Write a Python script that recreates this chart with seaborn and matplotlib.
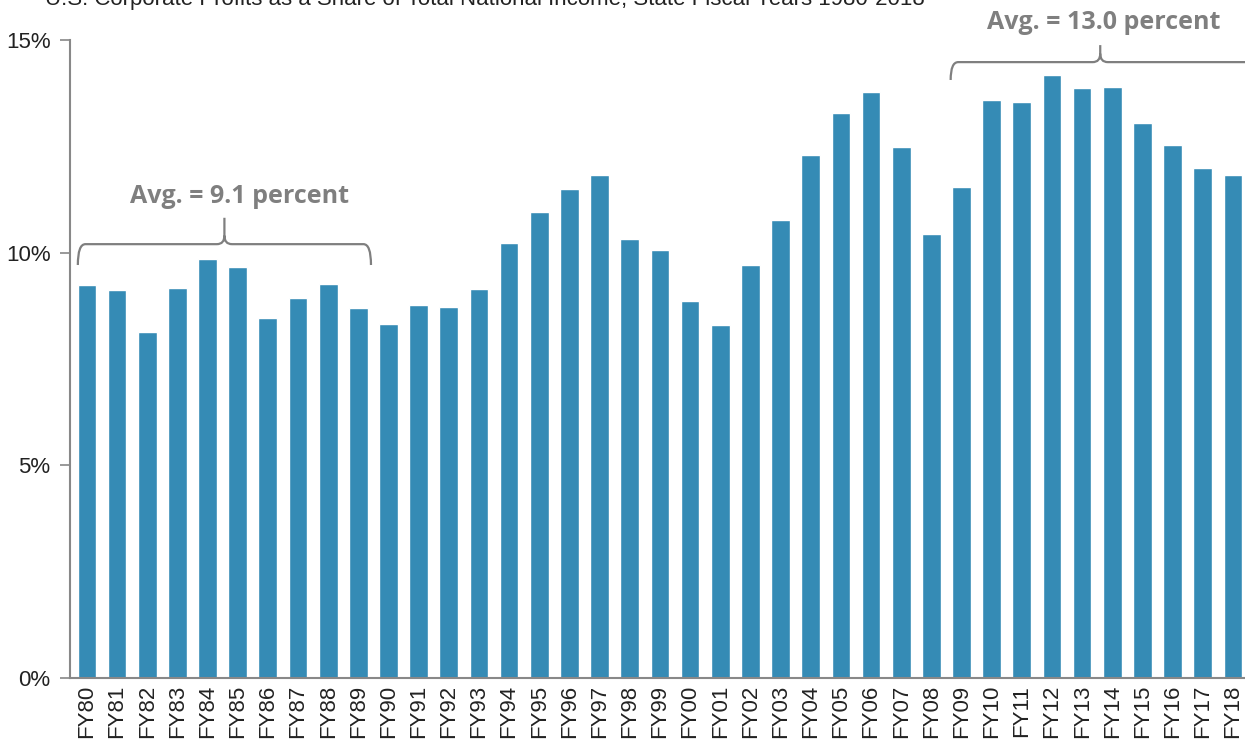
import matplotlib
matplotlib.use("Agg")
import matplotlib.pyplot as plt
from matplotlib.path import Path
from matplotlib.patches import PathPatch
import seaborn as sns
import pandas as pd

years = ["FY80", "FY81", "FY82", "FY83", "FY84", "FY85", "FY86", "FY87", "FY88", "FY89",
         "FY90", "FY91", "FY92", "FY93", "FY94", "FY95", "FY96", "FY97", "FY98", "FY99",
         "FY00", "FY01", "FY02", "FY03", "FY04", "FY05", "FY06", "FY07", "FY08", "FY09",
         "FY10", "FY11", "FY12", "FY13", "FY14", "FY15", "FY16", "FY17", "FY18"]
share = [9.24, 9.12, 8.14, 9.17, 9.85, 9.66, 8.46, 8.93, 9.26, 8.70,
         8.32, 8.77, 8.72, 9.15, 10.23, 10.96, 11.50, 11.83, 10.32, 10.06,
         8.86, 8.30, 9.71, 10.77, 12.30, 13.28, 13.78, 12.49, 10.44, 11.54,
         13.59, 13.54, 14.18, 13.87, 13.90, 13.05, 12.53, 11.99, 11.83]
yticks = [0, 5, 10, 15]
ytick_labels = ["0%", "5%", "10%", "15%"]
title = "U.S. Corporate Profits as a Share of Total National Income, State Fiscal Years 1980-2018"
avg_labels = ["Avg. = 9.1 percent", "Avg. = 13.0 percent"]

df = pd.DataFrame({"year": years, "share": share})

sns.set_theme(style="white")
plt.rcParams["font.family"] = ["Liberation Sans", "DejaVu Sans"]

fig = plt.figure(figsize=(12.45, 7.45), dpi=100)
ax = fig.add_axes([70 / 1245, 67 / 745, 1 - 70 / 1245, (678 - 40) / 745])

sns.barplot(data=df, x="year", y="share", color="#358BB5", saturation=1, width=0.62, ax=ax)

ax.set_ylim(0, 15)
ax.set_xlim(-0.56, 38.4)
ax.set_yticks(yticks)
ax.set_yticklabels(ytick_labels, fontsize=16, color="#222222")
ax.tick_params(axis="x", labelrotation=90, labelsize=16, length=0, pad=5, labelcolor="#222222")
ax.tick_params(axis="y", length=7, width=1.2, color="#888888", direction="out", left=True, pad=7)
ax.set_xlabel("")
ax.set_ylabel("")
for s in ["top", "right"]:
    ax.spines[s].set_visible(False)
for s in ["left", "bottom"]:
    ax.spines[s].set_color("#888888")
    ax.spines[s].set_linewidth(1.5)

gray = "#7F7F7F"

def brace(x0, x1, xm, yend, yh, ytip, dx, dy):
    verts = []
    codes = []
    verts += [(x0, yend), (x0, yh), (x0 + dx, yh), (xm - dx, yh), (xm, yh), (xm, yh + dy), (xm, ytip)]
    codes += [Path.MOVETO, Path.CURVE3, Path.CURVE3, Path.LINETO, Path.CURVE3, Path.CURVE3, Path.LINETO]
    verts += [(x1, yend), (x1, yh), (x1 - dx, yh), (xm + dx, yh), (xm, yh), (xm, yh + dy)]
    codes += [Path.MOVETO, Path.CURVE3, Path.CURVE3, Path.LINETO, Path.CURVE3, Path.CURVE3]
    p = PathPatch(Path(verts, codes), fill=False, edgecolor=gray, linewidth=1.6, clip_on=False)
    ax.add_patch(p)

brace(-0.30, 9.42, 4.56, 9.71, 10.2, 10.82, 0.25, 0.2)
brace(28.64, 39.2, 33.6, 14.06, 14.48, 14.88, 0.25, 0.2)

ax.text(5.07, 11.33, avg_labels[0], ha="center", va="center", fontsize=18, fontweight="bold",
        color=gray, family=["Open Sans", "DejaVu Sans"])
ax.text(33.72, 15.42, avg_labels[1], ha="center", va="center", fontsize=18, fontweight="bold",
        color=gray, family=["Open Sans", "DejaVu Sans"], clip_on=False)

fig.text(45 / 1245, 1 - 5 / 745, title, ha="left", va="baseline", fontsize=16, color="#222222",
         family=["Liberation Sans Narrow", "Liberation Sans", "DejaVu Sans"])

fig.savefig("out.png", dpi=100)
